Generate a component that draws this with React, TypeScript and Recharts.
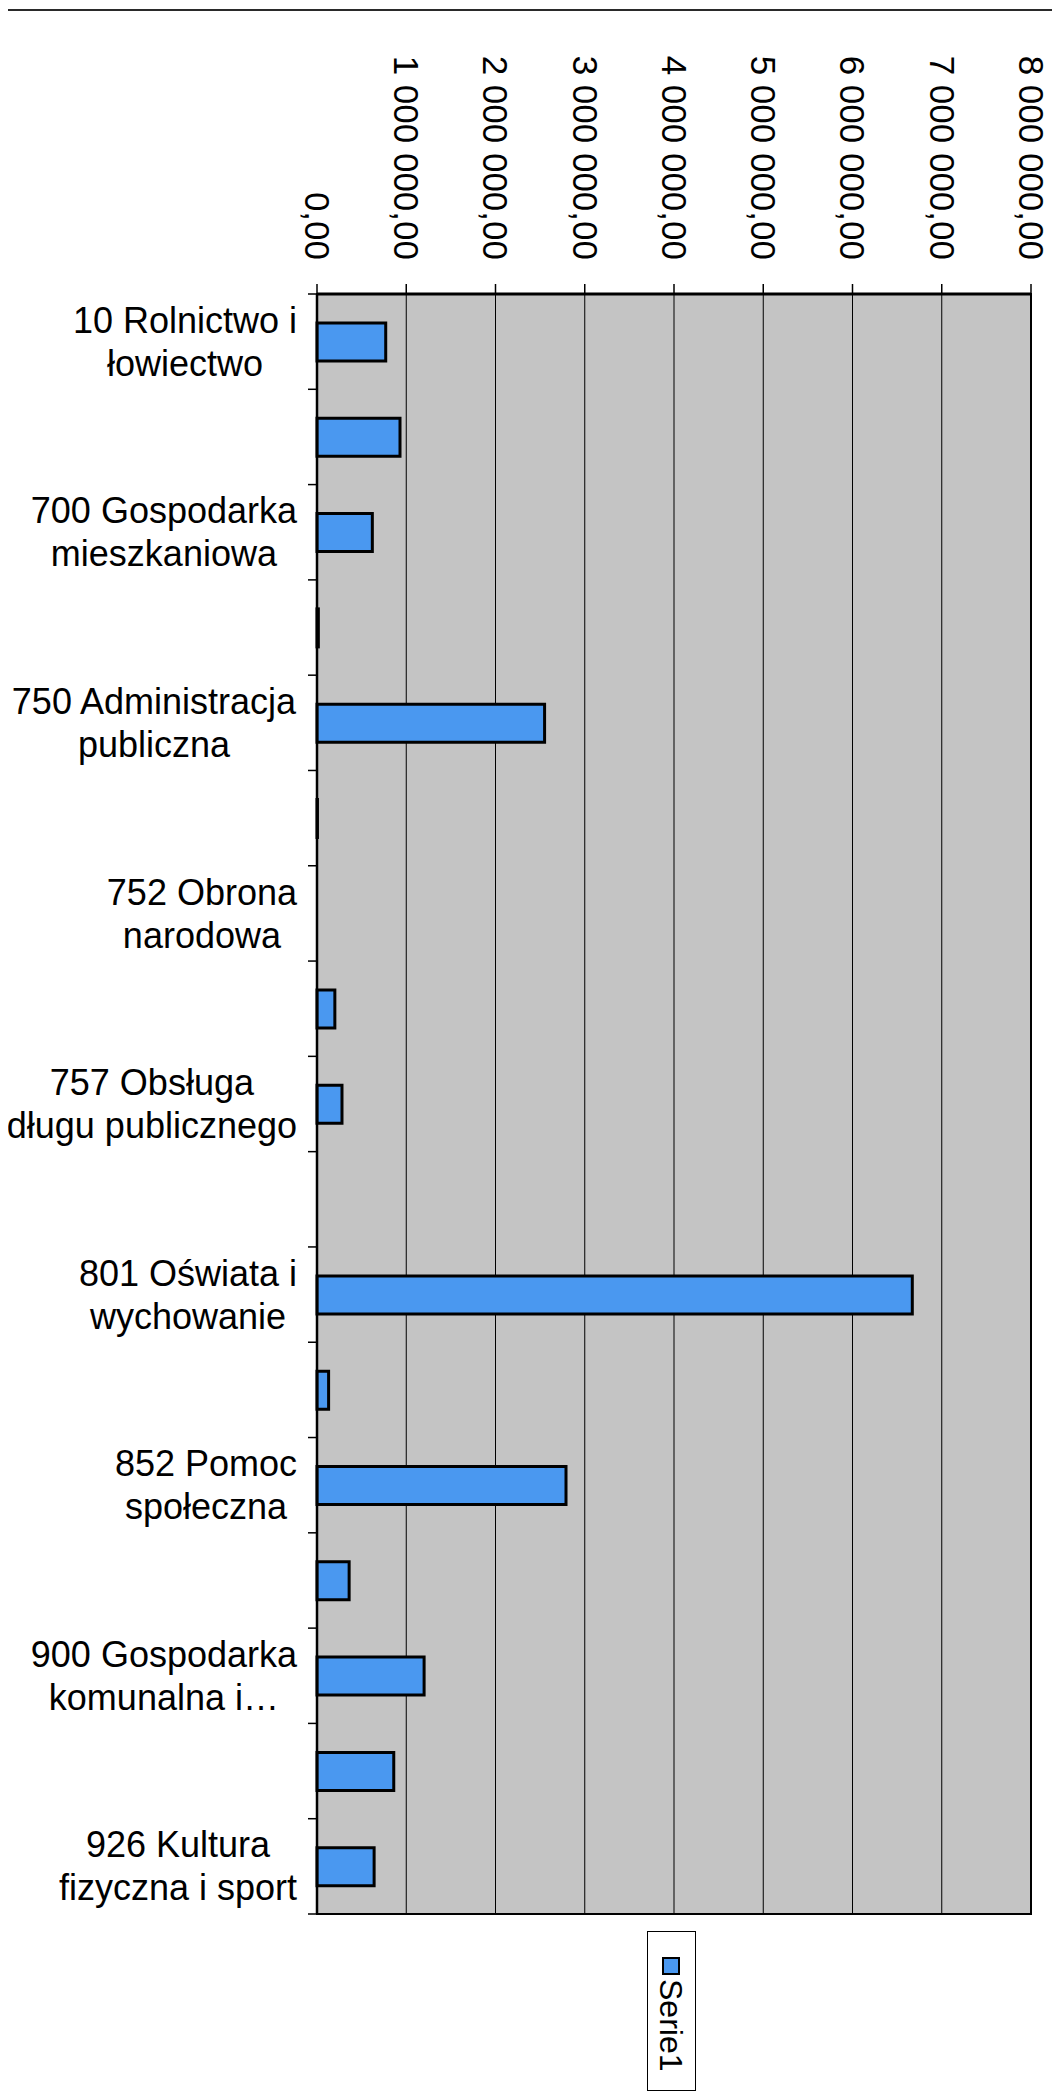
import React from 'react';
import { BarChart, Bar, XAxis, YAxis, CartesianGrid, ReferenceArea } from 'recharts';

const FONT = "'Liberation Sans', Arial, Helvetica, sans-serif";

// Category labels (line breaks as in the original wrapped labels)
const categories: string[] = [
  '10 Rolnictwo i\nłowiectwo',
  '600 Transport i\nłączność',
  '700 Gospodarka\nmieszkaniowa',
  '710 Działalność\nusługowa',
  '750 Administracja\npubliczna',
  '751 Urzędy\nnaczelnych…',
  '752 Obrona\nnarodowa',
  '754 Bezpieczeństwo\npubliczne…',
  '757 Obsługa\ndługu publicznego',
  '758 Różne\nrozliczenia',
  '801 Oświata i\nwychowanie',
  '851 Ochrona\nzdrowia',
  '852 Pomoc\nspołeczna',
  '854 Edukacyjna\nopieka…',
  '900 Gospodarka\nkomunalna i…',
  '921 Kultura i\nochrona…',
  '926 Kultura\nfizyczna i sport',
];

// Serie1 values
const serie1: number[] = [
  770000, 930000, 620000, 15000, 2550000, 5000, 0, 200000, 280000, 0,
  6670000, 130000, 2790000, 360000, 1200000, 860000, 640000,
];

// Value-axis ticks and their labels
const xTicks: number[] = [0, 1000000, 2000000, 3000000, 4000000, 5000000, 6000000, 7000000, 8000000];
const xTickLabels: string[] = [
  '0,00', '1 000 000,00', '2 000 000,00', '3 000 000,00', '4 000 000,00',
  '5 000 000,00', '6 000 000,00', '7 000 000,00', '8 000 000,00',
];

const seriesName = 'Serie1';

const data = categories.map((name, i) => ({ name, value: serie1[i] }));

let ctx: CanvasRenderingContext2D | null = null;
function measure(text: string, size: number): number {
  if (!ctx && typeof document !== 'undefined') {
    ctx = document.createElement('canvas').getContext('2d');
  }
  if (!ctx) return text.length * size * 0.55;
  ctx.font = `${size}px 'Liberation Sans', Arial, sans-serif`;
  return ctx.measureText(text).width;
}

const CAT_SIZE = 36;
const VAL_SIZE = 35;

function ValueTick(props: any) {
  const { x, y, index } = props;
  const label = xTickLabels[index] ?? '';
  return (
    <text
      x={x}
      y={y}
      transform={`rotate(90 ${x} ${y})`}
      textAnchor="end"
      dy="0.35em"
      fontSize={VAL_SIZE}
      fontFamily={FONT}
      fill="#000"
    >
      {label}
    </text>
  );
}

function CategoryTick(props: any) {
  const { x, y, payload } = props;
  const half = payload && typeof payload.offset === 'number' ? payload.offset : 0;
  const lines = String(payload.value).split('\n');
  const maxW = Math.max(...lines.map((l) => measure(l, CAT_SIZE)));
  const cx = x - maxW / 2;
  const lh = 43;
  const startY = y - ((lines.length - 1) * lh) / 2;
  return (
    <g>
      {half > 0 && (
        <>
          <line x1={x + 11} x2={x + 20} y1={y - half} y2={y - half} stroke="#000" strokeWidth={1.5} />
          <line x1={x + 11} x2={x + 20} y1={y + half} y2={y + half} stroke="#000" strokeWidth={1.5} />
        </>
      )}
      <text textAnchor="middle" fontSize={CAT_SIZE} fontFamily={FONT} fill="#000">
        {lines.map((l, i) => (
          <tspan key={i} x={cx} y={startY + i * lh} dy="0.35em">
            {l}
          </tspan>
        ))}
      </text>
    </g>
  );
}

export default function App() {
  return (
    <div style={{ position: 'relative', width: 1044, height: 2083, fontFamily: FONT }}>
      <div
        style={{
          position: 'absolute',
          left: -7,
          top: 1,
          width: 1058,
          height: 2088,
          borderTop: '2px solid #2a2a2a',
          borderLeft: '1px solid #666',
          boxSizing: 'border-box',
          pointerEvents: 'none',
        }}
      />
      <BarChart
        width={1044}
        height={2083}
        data={data}
        layout="vertical"
        margin={{ top: 0, right: 21, bottom: 177, left: 0 }}
      >
        <CartesianGrid horizontal={false} stroke="#000" strokeWidth={1} fill="#c4c4c4" fillOpacity={1} />
        <XAxis
          type="number"
          orientation="top"
          domain={[0, 8000000]}
          ticks={xTicks}
          interval={0}
          height={286}
          tickSize={10}
          tickMargin={24}
          axisLine={{ stroke: '#000', strokeWidth: 3 }}
          tickLine={{ stroke: '#000', strokeWidth: 1.5 }}
          tick={<ValueTick />}
        />
        <YAxis
          type="category"
          dataKey="name"
          width={309}
          interval={1}
          tickSize={9}
          tickMargin={11}
          tickLine={false}
          axisLine={{ stroke: '#000', strokeWidth: 2.5 }}
          tick={<CategoryTick />}
        />
        <ReferenceArea x1={0} x2={8000000} fill="#000" fillOpacity={0} stroke="#000" strokeWidth={2} />
        <Bar
          dataKey="value"
          name={seriesName}
          fill="#4a98f0"
          stroke="#000"
          strokeWidth={3}
          barSize={38}
          isAnimationActive={false}
        />
      </BarChart>
      <div
        style={{
          position: 'absolute',
          left: 639,
          top: 1923,
          width: 49,
          height: 160,
          border: '1.5px solid #000',
          boxSizing: 'border-box',
          background: '#fff',
        }}
      >
        <div
          style={{
            position: 'absolute',
            left: 13.5,
            top: 24.5,
            width: 18,
            height: 18,
            background: '#4a98f0',
            border: '2.5px solid #000',
            boxSizing: 'border-box',
          }}
        />
        <div
          style={{
            position: 'absolute',
            left: 0,
            top: 47,
            width: 46,
            writingMode: 'vertical-rl',
            fontSize: 32,
            lineHeight: '46px',
            fontFamily: FONT,
            color: '#000',
          }}
        >
          {seriesName}
        </div>
      </div>
    </div>
  );
}
